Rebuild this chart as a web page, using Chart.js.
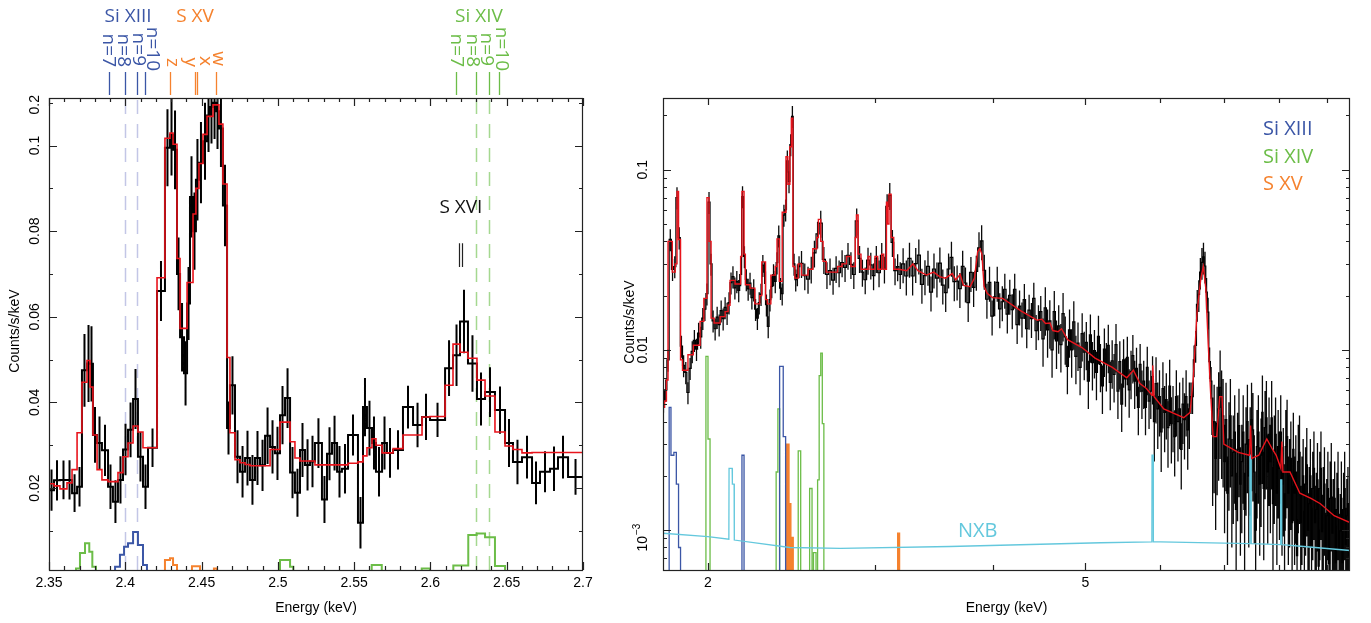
<!DOCTYPE html>
<html>
<head>
<meta charset="utf-8">
<script src="https://cdn.jsdelivr.net/npm/chart.js@4.4.1/dist/chart.umd.min.js"></script>
<style>
  html, body { margin: 0; padding: 0; background: #fff; }
  #wrap { position: relative; width: 1371px; height: 623px; overflow: hidden; }
  #left { position: absolute; left: 0; top: 0; width: 640px; height: 623px; }
  #right { position: absolute; left: 600px; top: 0; width: 771px; height: 623px; }
</style>
</head>
<body>
<div id="wrap">
  <canvas id="left" width="640" height="623"></canvas>
  <canvas id="right" width="771" height="623"></canvas>
</div>
<script>
// ---------- left panel: 2.35-2.7 keV zoom ----------
// bin lower edges (last value is the upper edge of the last bin)
const leftE = [2.3500, 2.3533, 2.3572, 2.3618, 2.3651, 2.3684, 2.3716, 2.3749, 2.3769, 2.3788,
  2.3815, 2.3847, 2.3887, 2.3919, 2.3952, 2.3985, 2.4018, 2.4051, 2.4083, 2.4116,
  2.4149, 2.4208, 2.4260, 2.4293, 2.4313, 2.4339, 2.4359, 2.4385, 2.4405, 2.4424,
  2.4444, 2.4463, 2.4483, 2.4509, 2.4536, 2.4555, 2.4575, 2.4595, 2.4614, 2.4640,
  2.4667, 2.4686, 2.4719, 2.4752, 2.4785, 2.4817, 2.4850, 2.4883, 2.4916, 2.4949,
  2.4981, 2.5014, 2.5047, 2.5080, 2.5112, 2.5145, 2.5178, 2.5211, 2.5243, 2.5289,
  2.5322, 2.5355, 2.5388, 2.5420, 2.5460, 2.5525, 2.5558, 2.5584, 2.5617, 2.5643,
  2.5683, 2.5715, 2.5755, 2.5820, 2.5886, 2.5945, 2.5997, 2.6096, 2.6148, 2.6194,
  2.6246, 2.6305, 2.6358, 2.6423, 2.6489, 2.6541, 2.6600, 2.6666, 2.6718, 2.6784,
  2.6836, 2.6902, 2.7000];
const leftCounts = [0.0195, 0.0218, 0.0219, 0.0219, 0.0188, 0.0203, 0.0475, 0.0491, 0.0490, 0.0324,
  0.0305, 0.0288, 0.0203, 0.0168, 0.0219, 0.0290, 0.0336, 0.0408, 0.0273, 0.0203,
  0.0294, 0.0660, 0.0995, 0.1025, 0.0990, 0.0700, 0.0552, 0.0468, 0.0631, 0.0880,
  0.0800, 0.0920, 0.0960, 0.1010, 0.1070, 0.1090, 0.1100, 0.1080, 0.1040, 0.0860,
  0.0340, 0.0440, 0.0273, 0.0238, 0.0270, 0.0219, 0.0270, 0.0253, 0.0322, 0.0296,
  0.0281, 0.0370, 0.0410, 0.0236, 0.0189, 0.0289, 0.0254, 0.0262, 0.0305, 0.0173,
  0.0280, 0.0305, 0.0238, 0.0245, 0.0324, 0.0119, 0.0389, 0.0340, 0.0305, 0.0238,
  0.0305, 0.0282, 0.0289, 0.0389, 0.0347, 0.0366, 0.0359, 0.0480, 0.0510, 0.0589,
  0.0491, 0.0408, 0.0424, 0.0382, 0.0305, 0.0261, 0.0272, 0.0212, 0.0238, 0.0245,
  0.0272, 0.0226];
const leftErr = [0.0048, 0.0047, 0.0045, 0.0046, 0.0044, 0.0046, 0.0085, 0.0090, 0.0088, 0.0065,
  0.0062, 0.0060, 0.0052, 0.0050, 0.0055, 0.0060, 0.0064, 0.0070, 0.0058, 0.0052,
  0.0045, 0.0070, 0.0090, 0.0095, 0.0092, 0.0085, 0.0080, 0.0075, 0.0085, 0.0095,
  0.0090, 0.0095, 0.0095, 0.0090, 0.0085, 0.0085, 0.0085, 0.0088, 0.0090, 0.0095,
  0.0062, 0.0068, 0.0062, 0.0060, 0.0064, 0.0058, 0.0063, 0.0060, 0.0066, 0.0062,
  0.0062, 0.0068, 0.0070, 0.0060, 0.0056, 0.0063, 0.0060, 0.0060, 0.0058, 0.0055,
  0.0062, 0.0064, 0.0060, 0.0058, 0.0048, 0.0060, 0.0068, 0.0064, 0.0062, 0.0058,
  0.0062, 0.0058, 0.0046, 0.0050, 0.0052, 0.0054, 0.0040, 0.0065, 0.0072, 0.0074,
  0.0066, 0.0062, 0.0058, 0.0055, 0.0056, 0.0052, 0.0050, 0.0050, 0.0048, 0.0052,
  0.0050, 0.0042];
const leftModel = [0.0210, 0.0205, 0.0198, 0.0212, 0.0243, 0.0329, 0.0447, 0.0498, 0.0436, 0.0324,
  0.0243, 0.0219, 0.0215, 0.0215, 0.0236, 0.0273, 0.0305, 0.0345, 0.0331, 0.0294,
  0.0294, 0.0691, 0.1017, 0.1029, 0.1003, 0.0736, 0.0573, 0.0573, 0.0680, 0.0680,
  0.0840, 0.0900, 0.0958, 0.1026, 0.1068, 0.1068, 0.1095, 0.1095, 0.1050, 0.0910,
  0.0505, 0.0329, 0.0266, 0.0259, 0.0255, 0.0252, 0.0252, 0.0252, 0.0252, 0.0290,
  0.0290, 0.0354, 0.0354, 0.0308, 0.0270, 0.0263, 0.0263, 0.0263, 0.0254, 0.0254,
  0.0254, 0.0254, 0.0254, 0.0254, 0.0258, 0.0261, 0.0275, 0.0294, 0.0315, 0.0300,
  0.0282, 0.0282, 0.0292, 0.0324, 0.0324, 0.0366, 0.0367, 0.0440, 0.0536, 0.0517,
  0.0503, 0.0452, 0.0415, 0.0331, 0.0298, 0.0290, 0.0282, 0.0283, 0.0283, 0.0283,
  0.0283, 0.0283];

// line components (step histograms)
const leftSi13E = [2.3900, 2.3933, 2.3965, 2.3992, 2.4018, 2.4051, 2.4083, 2.4116, 2.4142];
const leftSi13V = [0, 0.0016, 0.0044, 0.0063, 0.0071, 0.0097, 0.0067, 0.0020, 0];
const leftSi14E = [2.3650, 2.3677, 2.3703, 2.3736, 2.3764, 2.3784, 2.3808, 2.5014, 2.5080, 2.5101,
  2.5615, 2.5681, 2.5943, 2.5997, 2.6150, 2.6248, 2.6303, 2.6358, 2.6423, 2.6489];
const leftSi14V = [0, 0.0012, 0.0048, 0.0071, 0.0051, 0.0016, 0, 0.0032, 0.0016, 0,
  0.0020, 0, 0.0012, 0, 0.0019, 0.0090, 0.0094, 0.0085, 0.0018, 0];
const leftS15E = [2.4240, 2.4260, 2.4293, 2.4313, 2.4339, 2.4437, 2.4490, 2.4581, 2.4600];
const leftS15V = [0, 0.0032, 0.0036, 0.0020, 0, 0.0017, 0, 0.0012, 0];

const leftXTicks = [2.35, 2.4, 2.45, 2.5, 2.55, 2.6, 2.65, 2.7];
const leftYTicks = [0.02, 0.04, 0.06, 0.08, 0.1];
const leftYTopLabel = '0.2';

// line identifications above the left panel
const si13Lines = [2.3893, 2.3998, 2.4077, 2.4129];
const si13Names = ['n=7', 'n=8', 'n=9', 'n=10'];
const si13NameE = [2.3887, 2.3985, 2.4083, 2.4175];
const s15Lines = [2.4293, 2.4460, 2.4473, 2.4595];
const s15Names = ['z', 'y', 'x', 'w'];
const s15NameE = [2.4306, 2.4424, 2.4522, 2.4608];
const si14Lines = [2.6168, 2.6299, 2.6384, 2.6449];
const si14Names = ['n=7', 'n=8', 'n=9', 'n=10'];
const si14NameE = [2.6168, 2.6272, 2.6364, 2.6463];
const s16Lines = [2.6184, 2.6207];
const si13Dashed = [2.3998, 2.4077];
const si14Dashed = [2.6299, 2.6384];

// ---------- right panel: broad band spectrum ----------
const rightE = [
  1.79, 1.80, 1.81, 1.82, 1.83, 1.84, 1.85, 1.86, 1.87, 1.88,
  1.89, 1.90, 1.91, 1.92, 1.93, 1.94, 1.95, 1.96, 1.97, 1.98,
  1.99, 2.00, 2.01, 2.02, 2.03, 2.04, 2.05, 2.06, 2.07, 2.08,
  2.09, 2.10, 2.11, 2.12, 2.13, 2.14, 2.15, 2.16, 2.17, 2.18,
  2.19, 2.20, 2.21, 2.22, 2.23, 2.24, 2.25, 2.26, 2.27, 2.28,
  2.29, 2.30, 2.31, 2.32, 2.33, 2.34, 2.35, 2.36, 2.37, 2.38,
  2.39, 2.40, 2.41, 2.42, 2.43, 2.44, 2.45, 2.46, 2.47, 2.48,
  2.49,
  2.50, 2.52, 2.54, 2.56, 2.58, 2.60, 2.62, 2.64, 2.66, 2.68,
  2.70, 2.72, 2.74, 2.76, 2.78, 2.80, 2.82, 2.84, 2.86, 2.88,
  2.90, 2.92, 2.94, 2.96, 2.98, 3.00, 3.02, 3.04, 3.06, 3.08,
  3.10, 3.12, 3.14, 3.16, 3.18,
  3.200, 3.225, 3.250, 3.275, 3.300, 3.325, 3.350, 3.375, 3.400, 3.425,
  3.450, 3.475, 3.500, 3.525, 3.550, 3.575, 3.600, 3.625, 3.650, 3.675,
  3.700, 3.725, 3.750, 3.775, 3.800, 3.825, 3.850, 3.875, 3.900, 3.925,
  3.950, 3.975,
  4.000, 4.025, 4.050, 4.075, 4.100, 4.125, 4.150, 4.175, 4.200, 4.225,
  4.250, 4.275, 4.300, 4.325, 4.350, 4.375, 4.400, 4.425, 4.450, 4.475,
  4.500, 4.525, 4.550, 4.575, 4.600, 4.625, 4.650, 4.675, 4.700, 4.725,
  4.750, 4.775, 4.800, 4.825, 4.850, 4.875, 4.900, 4.925, 4.950, 4.975,
  5.000, 5.025, 5.050, 5.075, 5.100, 5.125, 5.150, 5.175, 5.200, 5.225,
  5.250, 5.275, 5.300, 5.325, 5.350, 5.375, 5.400, 5.425, 5.450, 5.475,
  5.500, 5.525, 5.550, 5.575, 5.600, 5.625, 5.650, 5.675, 5.700, 5.725,
  5.750, 5.775, 5.800, 5.825, 5.850, 5.875, 5.900, 5.925, 5.950, 5.975,
  6.000, 6.025, 6.050, 6.075, 6.100, 6.125, 6.150, 6.175, 6.200, 6.225,
  6.250, 6.275, 6.300, 6.325, 6.350, 6.375, 6.400, 6.425, 6.450, 6.475,
  6.500, 6.525, 6.550, 6.575, 6.600, 6.625, 6.650, 6.675, 6.700, 6.725,
  6.750, 6.775, 6.800, 6.825, 6.850, 6.875, 6.900, 6.925, 6.950, 6.975,
  7.000, 7.025, 7.050, 7.075, 7.100, 7.125, 7.150, 7.175, 7.200, 7.225,
  7.250, 7.275, 7.300, 7.325, 7.350, 7.375, 7.400, 7.425, 7.450, 7.475,
  7.500, 7.525, 7.550, 7.575, 7.600, 7.625, 7.650, 7.675, 7.700, 7.725,
  7.750, 7.775, 7.800, 7.825, 7.850, 7.875, 7.900, 7.925, 7.950, 7.975,
  8.000, 8.025, 8.050, 8.075, 8.100, 8.125, 8.150, 8.175, 8.200, 8.225,
  8.250, 8.275, 8.300, 8.325, 8.350, 8.375, 8.400, 8.425, 8.450, 8.475,
  8.500, 8.525, 8.550, 8.575, 8.600, 8.625, 8.650, 8.675, 8.700, 8.725,
  8.750, 8.775, 8.800, 8.825, 8.850, 8.875, 8.900, 8.925, 8.950, 8.975,
  9.000, 9.025, 9.050, 9.075, 9.100, 9.125, 9.150, 9.175, 9.200, 9.225,
  9.250, 9.275, 9.300, 9.325, 9.350, 9.375, 9.400, 9.425, 9.450, 9.475,
  9.500];
const rightCounts = [
  0.0052, 0.0060, 0.0088, 0.0410, 0.0280, 0.0290, 0.0700, 0.0420, 0.0105, 0.0082,
  0.0075, 0.0058, 0.0079, 0.0098, 0.0113, 0.0101, 0.0124, 0.0118, 0.0150, 0.0168,
  0.0205, 0.0660, 0.0300, 0.0145, 0.0131, 0.0152, 0.0138, 0.0165, 0.0149, 0.0172,
  0.0160, 0.0183, 0.0236, 0.0255, 0.0221, 0.0240, 0.0214, 0.0262, 0.0710, 0.0330,
  0.0246, 0.0218, 0.0235, 0.0195, 0.0216, 0.0168, 0.0150, 0.0183, 0.0204, 0.0295,
  0.0270, 0.0178, 0.0135, 0.0190, 0.0225, 0.0262, 0.0240, 0.0305, 0.0430, 0.0220,
  0.0205, 0.0560, 0.0600, 0.1120, 0.0860, 0.1380, 0.1980, 0.0300, 0.0245, 0.0262,
  0.0290,
  0.0302, 0.0258, 0.0247, 0.0281, 0.0345, 0.0440, 0.0505, 0.0318, 0.0262, 0.0275,
  0.0244, 0.0283, 0.0268, 0.0305, 0.0287, 0.0335, 0.0298, 0.0262, 0.0520, 0.0322,
  0.0270, 0.0245, 0.0315, 0.0296, 0.0258, 0.0322, 0.0268, 0.0335, 0.0281, 0.0625,
  0.0720, 0.0395, 0.0275, 0.0290, 0.0262,
  0.0300, 0.0257, 0.0322, 0.0257, 0.0301, 0.0336, 0.0231, 0.0258, 0.0291, 0.0209,
  0.0281, 0.0250, 0.0303, 0.0229, 0.0208, 0.0281, 0.0326, 0.0239, 0.0241, 0.0219,
  0.0291, 0.0235, 0.0183, 0.0269, 0.0222, 0.0273, 0.0368, 0.0403, 0.0276, 0.0191,
  0.0237, 0.0154,
  0.0197, 0.0237, 0.0169, 0.0185, 0.0217, 0.0158, 0.0201, 0.0167, 0.0217, 0.0138,
  0.0175, 0.0150, 0.0190, 0.0131, 0.0166, 0.0149, 0.0193, 0.0128, 0.0145, 0.0163,
  0.0115, 0.0171, 0.0129, 0.0145, 0.0100, 0.0163, 0.0112, 0.0136, 0.0107, 0.0159,
  0.0118, 0.0081, 0.0129, 0.0100, 0.0143, 0.0092, 0.0109, 0.0080, 0.0123, 0.0097,
  0.0110, 0.0067, 0.0121, 0.0085, 0.0099, 0.0075, 0.0119, 0.0083, 0.0063, 0.0101,
  0.0084, 0.0106, 0.0066, 0.0087, 0.0073, 0.0107, 0.0059, 0.0086, 0.0050, 0.0088,
  0.0069, 0.0091, 0.0060, 0.0076, 0.0093, 0.0067, 0.0079, 0.0048, 0.0083, 0.0059,
  0.0067, 0.0048, 0.0080, 0.0052, 0.0059, 0.0071, 0.0040, 0.0065, 0.0047, 0.0055,
  0.0035, 0.0061, 0.0045, 0.0053, 0.0037, 0.0063, 0.0039, 0.0045, 0.0033, 0.0055,
  0.0040, 0.0047, 0.0028, 0.0050, 0.0041, 0.0055, 0.0036, 0.0047, 0.0055, 0.0055,
  0.0088, 0.0106, 0.0179, 0.0203, 0.0270, 0.0306, 0.0328, 0.0292, 0.0209, 0.0162,
  0.0086, 0.0067, 0.0034, 0.0040, 0.0025, 0.0039, 0.0047, 0.0062, 0.0048, 0.0043,
  0.0024, 0.0041, 0.0016, 0.0032, 0.0043, 0.0020, 0.0027, 0.0035, 0.0013, 0.0028,
  0.0038, 0.0018, 0.0024, 0.0035, 0.0013, 0.0030, 0.0040, 0.0020, 0.0030, 0.0041,
  0.0036, 0.0021, 0.0010, 0.0029, 0.0035, 0.0018, 0.0026, 0.0045, 0.0017, 0.0037,
  0.0042, 0.0021, 0.0034, 0.0024, 0.0042, 0.0014, 0.0027, 0.0034, 0.0016, 0.0029,
  0.0022, 0.0035, 0.0018, 0.0023, 0.0010, 0.0029, 0.0033, 0.0016, 0.0020, 0.0025,
  0.0011, 0.0028, 0.0016, 0.0021, 0.00072, 0.0024, 0.0027, 0.0011, 0.0016, 0.0020,
  0.0008, 0.0018, 0.0023, 0.0010, 0.0014, 0.0020, 0.00083, 0.0017, 0.0022, 0.0011,
  0.0013, 0.0019, 0.00063, 0.0017, 0.0022, 0.00098, 0.0014, 0.0018, 0.00078, 0.0012,
  0.0017, 0.00065, 0.0015, 0.0019, 0.00096, 0.0012, 0.0015, 0.00066, 0.0013, 0.0017,
  0.00077, 0.00099, 0.0015, 0.00066, 0.0013, 0.0017, 0.00083, 0.0012, 0.0014, 0.00072];
// relative size of the error bars, by energy band
const rightErrBandE = [1.79, 2.5, 3.2, 4.5, 5.9, 6.45, 6.8];
const rightErrFrac = [0.14, 0.17, 0.22, 0.3, 0.4, 0.2, 0.6];

// model, binned part (step) and smooth part
const rightModelLowE = [1.793, 1.800, 1.808, 1.815, 1.834, 1.847, 1.855, 1.862, 1.871, 1.880,
  1.905, 1.930, 1.962, 1.980, 1.995, 2.005, 2.015, 2.030, 2.060, 2.085,
  2.100, 2.110, 2.136, 2.165, 2.172, 2.183, 2.190, 2.215, 2.241, 2.268,
  2.279, 2.300, 2.310, 2.330, 2.355, 2.365, 2.378, 2.395, 2.417, 2.428,
  2.440, 2.449, 2.458, 2.470, 2.490, 2.510, 2.550, 2.580, 2.605, 2.615,
  2.630, 2.645, 2.665, 2.740, 2.770, 2.800, 2.830, 2.860, 2.868, 2.880,
  2.900, 2.950, 2.965, 3.000, 3.020, 3.050, 3.065, 3.085, 3.092, 3.104,
  3.120, 3.140, 3.180];
const rightModelLowV = [0.0048, 0.0052, 0.0068, 0.0400, 0.0270, 0.0300, 0.0757, 0.0410, 0.0088, 0.0077,
  0.0094, 0.0106, 0.0144, 0.0193, 0.0700, 0.0400, 0.0150, 0.0141, 0.0153, 0.0163,
  0.0177, 0.0243, 0.0232, 0.0330, 0.0757, 0.0340, 0.0230, 0.0220, 0.0180, 0.0200,
  0.0308, 0.0190, 0.0180, 0.0260, 0.0290, 0.0413, 0.0240, 0.0580, 0.1180, 0.0830,
  0.1340, 0.1930, 0.0290, 0.0250, 0.0300, 0.0260, 0.0280, 0.0364, 0.0420, 0.0530,
  0.0400, 0.0310, 0.0270, 0.0290, 0.0300, 0.0330, 0.0290, 0.0420, 0.0560, 0.0340,
  0.0280, 0.0330, 0.0280, 0.0330, 0.0280, 0.0340, 0.0280, 0.0660, 0.0500, 0.0730,
  0.0420, 0.0280, 0.0280];
const rightModelHighE = [3.18, 3.24, 3.29, 3.33, 3.40, 3.46, 3.51, 3.56, 3.62, 3.65,
  3.69, 3.72, 3.78, 3.82, 3.85, 3.87, 3.89, 3.91, 3.94, 3.99,
  4.09, 4.14, 4.28, 4.45, 4.50, 4.54, 4.59, 4.62, 4.68, 4.72,
  4.79, 4.96, 5.12, 5.34, 5.53, 5.62, 5.71, 5.80, 5.88, 5.89,
  5.91, 6.05, 6.35, 6.45, 6.50, 6.56, 6.62, 6.66, 6.70, 6.74,
  6.78, 6.82, 6.88, 6.93, 6.97, 7.00, 7.25, 7.45, 7.47, 7.49,
  7.62, 7.77, 7.88, 7.95, 8.04, 8.06, 8.08, 8.22, 8.42, 8.65,
  8.85, 9.15, 9.51];
const rightModelHighV = [0.0280, 0.0275, 0.0300, 0.0275, 0.0260, 0.0270, 0.0255, 0.0250, 0.0265, 0.0245,
  0.0262, 0.0228, 0.0224, 0.0250, 0.0350, 0.0365, 0.0340, 0.0225, 0.0206, 0.0195,
  0.0193, 0.0185, 0.0164, 0.0146, 0.0148, 0.0140, 0.0141, 0.0128, 0.0126, 0.0131,
  0.0114, 0.0103, 0.0090, 0.0080, 0.0070, 0.0077, 0.0065, 0.0061, 0.0056, 0.0082,
  0.0055, 0.0047, 0.0042, 0.0045, 0.0070, 0.0164, 0.0249, 0.0290, 0.0220, 0.0107,
  0.0057, 0.0033, 0.0033, 0.0055, 0.0055, 0.0030, 0.0027, 0.0026, 0.0038, 0.0025,
  0.0026, 0.0032, 0.0028, 0.0026, 0.0022, 0.0031, 0.0021, 0.0021, 0.0016, 0.0015,
  0.0014, 0.0012, 0.0011];

const rightSi13E = [1.793, 1.820, 1.828, 1.841, 1.852, 1.862, 1.871, 2.172, 2.183, 2.380, 2.401, 2.415];
const rightSi13V = [0, 0.0048, 0.0026, 0.0027, 0.0018, 0.0008, 0, 0.0026, 0, 0.0081, 0.0033, 0];
const rightSi14E = [1.793, 1.990, 2.000, 2.010, 2.360, 2.370, 2.380, 2.490, 2.505, 2.560,
  2.575, 2.584, 2.600, 2.610, 2.620, 2.630, 2.640, 2.650];
const rightSi14V = [0, 0.0092, 0.0032, 0, 0.0021, 0.0047, 0, 0.00275, 0, 0.0017,
  0, 0.00075, 0, 0.0019, 0.0072, 0.0096, 0.0039, 0];
const rightS15E = [1.793, 2.420, 2.435, 2.446, 2.460, 3.170, 3.185];
const rightS15V = [0, 0.0030, 0.0014, 0.00091, 0, 0.00096, 0];
const nxbE = [1.793, 2.000, 2.104, 2.105, 2.121, 2.122, 2.131, 2.132, 2.440, 2.760,
  3.600, 5.190, 5.878, 5.880, 5.897, 5.899, 6.000, 7.455, 7.457, 7.480,
  7.482, 8.035, 8.037, 8.055, 8.057, 8.500, 9.510];
const nxbV = [0.00096, 0.00092, 0.00089, 0.0022, 0.0022, 0.0018, 0.0018, 0.00088, 0.00080, 0.00079,
  0.00081, 0.00085, 0.00086, 0.0026, 0.0026, 0.00086, 0.00086, 0.00084, 0.0026, 0.0026,
  0.00084, 0.00083, 0.0019, 0.0019, 0.00083, 0.00081, 0.00077];

const rightXTicks = [2, 3, 4, 5, 6, 7, 8, 9];
const rightXLabelled = [2, 5];
const rightYMajor = [0.001, 0.01, 0.1];
const rightYLabels = ['10', '0.01', '0.1'];

// ---------- colours / fonts ----------
const RED = '#e8141c';
const BLUE = '#3b56a6';
const GREEN = '#6cbd48';
const ORANGE = '#f5822e';
const CYAN = '#64c8dd';
const AXIS = '#222';
const TICKFONT = { family: '"Liberation Sans", Arial, sans-serif', size: 14 };
const LABELFONT = '"Open Sans", "Noto Sans", sans-serif';
const LOG_FLOOR = 0.0005; // zero counts drawn just under the log axis

function steps(edges, vals, floor) {
  const f = v => (floor !== undefined ? Math.max(v, floor) : v);
  const pts = vals.map((v, i) => ({ x: edges[i], y: f(v) }));
  if (edges.length > vals.length) pts.push({ x: edges[vals.length], y: f(vals[vals.length - 1]) });
  return pts;
}
function line(edges, vals) {
  return vals.map((v, i) => ({ x: edges[i], y: v }));
}
function rotText(ctx, text, x, y, angle, align) {
  ctx.save();
  ctx.translate(x, y);
  ctx.rotate(angle);
  ctx.textAlign = align;
  ctx.textBaseline = 'middle';
  ctx.fillText(text, 0, 0);
  ctx.restore();
}
function rightErr(e, v) {
  let f = rightErrFrac[0];
  rightErrBandE.forEach((b, i) => { if (e >= b) f = rightErrFrac[i]; });
  return v * f;
}

// ---------- left panel decorations ----------
const leftDecor = {
  id: 'leftDecor',
  beforeDatasetsDraw(chart) {
    const { ctx, chartArea: a, scales: { x, y } } = chart;
    ctx.save();
    ctx.beginPath();
    ctx.rect(a.left, a.top, a.right - a.left, a.bottom - a.top);
    ctx.clip();
    // dashed guide lines
    ctx.lineWidth = 1.5;
    ctx.setLineDash([14, 10]);
    ctx.strokeStyle = '#c3c6e6';
    si13Dashed.forEach(e => {
      const px = Math.round(x.getPixelForValue(e)) + 0.5;
      ctx.beginPath(); ctx.moveTo(px, a.top + 2); ctx.lineTo(px, a.bottom); ctx.stroke();
    });
    ctx.strokeStyle = '#a5d890';
    si14Dashed.forEach(e => {
      const px = Math.round(x.getPixelForValue(e)) + 0.5;
      ctx.beginPath(); ctx.moveTo(px, a.top + 2); ctx.lineTo(px, a.bottom); ctx.stroke();
    });
    ctx.setLineDash([]);
    // error bars
    ctx.strokeStyle = '#000';
    ctx.lineWidth = 2;
    ctx.beginPath();
    leftCounts.forEach((v, i) => {
      const px = x.getPixelForValue((leftE[i] + leftE[i + 1]) / 2);
      ctx.moveTo(px, y.getPixelForValue(v - leftErr[i]));
      ctx.lineTo(px, y.getPixelForValue(v + leftErr[i]));
    });
    ctx.stroke();
    ctx.restore();
  },
  afterDraw(chart) {
    const { ctx, chartArea: a, scales: { x, y } } = chart;
    ctx.save();
    // frame
    ctx.strokeStyle = AXIS;
    ctx.lineWidth = 1.2;
    ctx.strokeRect(a.left + 0.5, a.top + 0.5, a.right - a.left - 1, a.bottom - a.top);
    // ticks
    ctx.beginPath();
    for (let k = 0; k <= 35; k++) {
      const e = 2.35 + k * 0.01;
      const len = k % 5 === 0 ? 8 : 4;
      const px = Math.round(x.getPixelForValue(e)) + 0.5;
      ctx.moveTo(px, a.bottom); ctx.lineTo(px, a.bottom - len);
      ctx.moveTo(px, a.top); ctx.lineTo(px, a.top + len);
    }
    for (let k = 1; k <= 11; k++) {
      const v = k * 0.01;
      const len = (k % 2 === 0 && k <= 10) ? 8 : 4;
      const py = Math.round(y.getPixelForValue(v)) + 0.5;
      ctx.moveTo(a.left, py); ctx.lineTo(a.left + len, py);
      ctx.moveTo(a.right, py); ctx.lineTo(a.right - len, py);
    }
    ctx.stroke();
    // y tick labels (rotated)
    ctx.fillStyle = '#000';
    ctx.font = `${TICKFONT.size}px ${TICKFONT.family}`;
    leftYTicks.forEach(v => {
      rotText(ctx, String(v), a.left - 14, y.getPixelForValue(v), -Math.PI / 2, 'center');
    });
    rotText(ctx, leftYTopLabel, a.left - 14, a.top - 3, -Math.PI / 2, 'right');
    // y title
    rotText(ctx, 'Counts/s/keV', 15, 331, -Math.PI / 2, 'center');

    // line identifications
    const markTop = a.top - 26, markBot = a.top - 3;
    function marks(list, color) {
      ctx.strokeStyle = color; ctx.lineWidth = 1.3;
      ctx.beginPath();
      list.forEach(e => {
        const px = Math.round(x.getPixelForValue(e)) + 0.5;
        ctx.moveTo(px, markTop); ctx.lineTo(px, markBot);
      });
      ctx.stroke();
    }
    function names(list, energies, color, ends) {
      ctx.fillStyle = color;
      ctx.font = `19px ${LABELFONT}`;
      list.forEach((t, i) => rotText(ctx, t, x.getPixelForValue(energies[i]), ends[i], Math.PI / 2, 'right'));
    }
    marks(si13Lines, BLUE);
    marks(s15Lines, ORANGE);
    marks(si14Lines, GREEN);
    names(si13Names, si13NameE, BLUE, [a.top - 31, a.top - 31, a.top - 32, a.top - 27]);
    names(s15Names, s15NameE, ORANGE, [a.top - 31, a.top - 31, a.top - 32, a.top - 32]);
    names(si14Names, si14NameE, GREEN, [a.top - 31, a.top - 31, a.top - 32, a.top - 27]);
    ctx.font = `19px ${LABELFONT}`;
    ctx.textAlign = 'center';
    ctx.textBaseline = 'middle';
    ctx.fillStyle = BLUE;
    ctx.fillText('Si XIII', x.getPixelForValue(2.4018), 17);
    ctx.fillStyle = ORANGE;
    ctx.fillText('S XV', x.getPixelForValue(2.4457), 17);
    ctx.fillStyle = GREEN;
    ctx.fillText('Si XIV', x.getPixelForValue(2.6318), 17);
    // S XVI inside the panel
    ctx.fillStyle = '#111';
    ctx.fillText('S XVI', x.getPixelForValue(2.6200), y.getPixelForValue(0.0854));
    ctx.strokeStyle = '#222'; ctx.lineWidth = 1.2;
    ctx.beginPath();
    s16Lines.forEach(e => {
      const px = Math.round(x.getPixelForValue(e)) + 0.5;
      ctx.moveTo(px, y.getPixelForValue(0.0772)); ctx.lineTo(px, y.getPixelForValue(0.0716));
    });
    ctx.stroke();
    ctx.restore();
  }
};

// ---------- right panel decorations ----------
const rightDecor = {
  id: 'rightDecor',
  beforeDatasetsDraw(chart) {
    const { ctx, chartArea: a, scales: { x, y } } = chart;
    ctx.save();
    ctx.beginPath();
    ctx.rect(a.left, a.top, a.right - a.left, a.bottom - a.top);
    ctx.clip();
    ctx.strokeStyle = '#0a0a0a';
    ctx.lineWidth = 1.3;
    ctx.beginPath();
    rightCounts.forEach((v, i) => {
      const c = (rightE[i] + rightE[i + 1]) / 2;
      const err = rightErr(c, v);
      const px = x.getPixelForValue(c);
      const lo = v - err > y.min ? y.getPixelForValue(v - err) : a.bottom;
      ctx.moveTo(px, lo);
      ctx.lineTo(px, y.getPixelForValue(v + err));
    });
    ctx.stroke();
    ctx.restore();
  },
  afterDraw(chart) {
    const { ctx, chartArea: a, scales: { x, y } } = chart;
    ctx.save();
    ctx.strokeStyle = AXIS;
    ctx.lineWidth = 1.2;
    ctx.strokeRect(a.left + 0.5, a.top + 0.5, a.right - a.left - 1, a.bottom - a.top);
    ctx.beginPath();
    rightXTicks.forEach(e => {
      const len = rightXLabelled.includes(e) ? 7 : 5;
      const px = Math.round(x.getPixelForValue(e)) + 0.5;
      ctx.moveTo(px, a.bottom); ctx.lineTo(px, a.bottom - len);
      ctx.moveTo(px, a.top); ctx.lineTo(px, a.top + len);
    });
    [0.0001, 0.001, 0.01, 0.1].forEach(d => {
      for (let k = 1; k <= 9; k++) {
        const v = d * k;
        if (v < y.min || v > y.max) continue;
        const len = k === 1 ? 8 : 4;
        const py = Math.round(y.getPixelForValue(v)) + 0.5;
        ctx.moveTo(a.left, py); ctx.lineTo(a.left + len, py);
        ctx.moveTo(a.right, py); ctx.lineTo(a.right - len, py);
      }
    });
    ctx.stroke();
    // y labels
    ctx.fillStyle = '#000';
    ctx.font = `${TICKFONT.size}px ${TICKFONT.family}`;
    rightYMajor.forEach((v, i) => {
      const py = y.getPixelForValue(v);
      if (rightYLabels[i] === '10') {
        // 10^-3
        ctx.save();
        ctx.translate(a.left - 20, py + 6);
        ctx.rotate(-Math.PI / 2);
        ctx.textBaseline = 'middle';
        ctx.textAlign = 'right';
        ctx.fillText('10', 0, 0);
        ctx.font = `10px ${TICKFONT.family}`;
        ctx.textAlign = 'left';
        ctx.fillText('\u22123', 1, -6);
        ctx.restore();
      } else {
        rotText(ctx, rightYLabels[i], a.left - 20, py, -Math.PI / 2, 'center');
      }
    });
    rotText(ctx, 'Counts/s/keV', 30, 322, -Math.PI / 2, 'center');
    // legend text and NXB label
    ctx.font = `20px ${LABELFONT}`;
    ctx.textAlign = 'left';
    ctx.textBaseline = 'middle';
    ctx.fillStyle = BLUE; ctx.fillText('Si XIII', 663, 129);
    ctx.fillStyle = GREEN; ctx.fillText('Si XIV', 663, 157);
    ctx.fillStyle = ORANGE; ctx.fillText('S XV', 663, 184);
    ctx.fillStyle = CYAN; ctx.textAlign = 'center';
    ctx.fillText('NXB', x.getPixelForValue(3.85), 531);
    ctx.restore();
  }
};

const common = {
  responsive: false,
  animation: false,
  events: [],
  plugins: { legend: { display: false }, tooltip: { enabled: false } },
  elements: { point: { radius: 0 }, line: { tension: 0 } }
};

new Chart(document.getElementById('left'), {
  type: 'line',
  data: {
    datasets: [
      { data: steps(leftE, leftModel), borderColor: RED, borderWidth: 1.6, stepped: true, order: 0 },
      { data: steps(leftSi13E, leftSi13V), borderColor: BLUE, borderWidth: 2, stepped: true, order: 1 },
      { data: steps(leftSi14E, leftSi14V), borderColor: GREEN, borderWidth: 2, stepped: true, order: 1 },
      { data: steps(leftS15E, leftS15V), borderColor: ORANGE, borderWidth: 2, stepped: true, order: 1 },
      { data: steps(leftE, leftCounts), borderColor: '#000', borderWidth: 2, stepped: true, order: 2 }
    ]
  },
  options: {
    ...common,
    layout: { padding: { left: 49, right: 57, top: 98, bottom: 0 } },
    scales: {
      x: {
        type: 'linear', min: 2.35, max: 2.7,
        grid: { display: false, drawTicks: false }, border: { display: false },
        afterBuildTicks: s => { s.ticks = leftXTicks.map(v => ({ value: v })); },
        afterFit: s => { s.height = 53; },
        ticks: { font: TICKFONT, color: '#000', padding: 5, maxRotation: 0, autoSkip: false,
          callback: v => String(+v.toFixed(2)) },
        title: { display: true, text: 'Energy (keV)', font: TICKFONT, color: '#000', padding: { top: 0, bottom: 6 } }
      },
      y: { type: 'linear', min: 0.00085, max: 0.1111, display: false }
    }
  },
  plugins: [leftDecor]
});

new Chart(document.getElementById('right'), {
  type: 'line',
  data: {
    datasets: [
      { data: steps(rightModelLowE, rightModelLowV), borderColor: RED, borderWidth: 1.4, stepped: true, order: 0 },
      { data: line(rightModelHighE, rightModelHighV), borderColor: RED, borderWidth: 1.4, order: 0 },
      { data: line(nxbE, nxbV), borderColor: CYAN, borderWidth: 1.3, order: 1 },
      { data: steps(rightSi13E, rightSi13V, LOG_FLOOR), borderColor: BLUE, borderWidth: 1.3, stepped: true, order: 1 },
      { data: steps(rightSi14E, rightSi14V, LOG_FLOOR), borderColor: GREEN, borderWidth: 1.3, stepped: true, order: 1 },
      { data: steps(rightS15E, rightS15V, LOG_FLOOR), borderColor: ORANGE, backgroundColor: ORANGE, borderWidth: 1.3,
        stepped: true, fill: 'start', order: 1 },
      { data: steps(rightE, rightCounts), borderColor: '#000', borderWidth: 1.2, stepped: true, order: 2 }
    ]
  },
  options: {
    ...common,
    layout: { padding: { left: 63, right: 21, top: 98, bottom: 0 } },
    scales: {
      x: {
        type: 'logarithmic', min: 1.793, max: 9.51,
        grid: { display: false, drawTicks: false }, border: { display: false },
        afterBuildTicks: s => { s.ticks = rightXTicks.map(v => ({ value: v })); },
        afterFit: s => { s.height = 53; },
        ticks: { font: TICKFONT, color: '#000', padding: 5, maxRotation: 0, autoSkip: false,
          callback: v => rightXLabelled.includes(v) ? String(v) : '' },
        title: { display: true, text: 'Energy (keV)', font: TICKFONT, color: '#000', padding: { top: 0, bottom: 6 } }
      },
      y: { type: 'logarithmic', min: 0.00061, max: 0.25, display: false }
    }
  },
  plugins: [rightDecor]
});
</script>
</body>
</html>
